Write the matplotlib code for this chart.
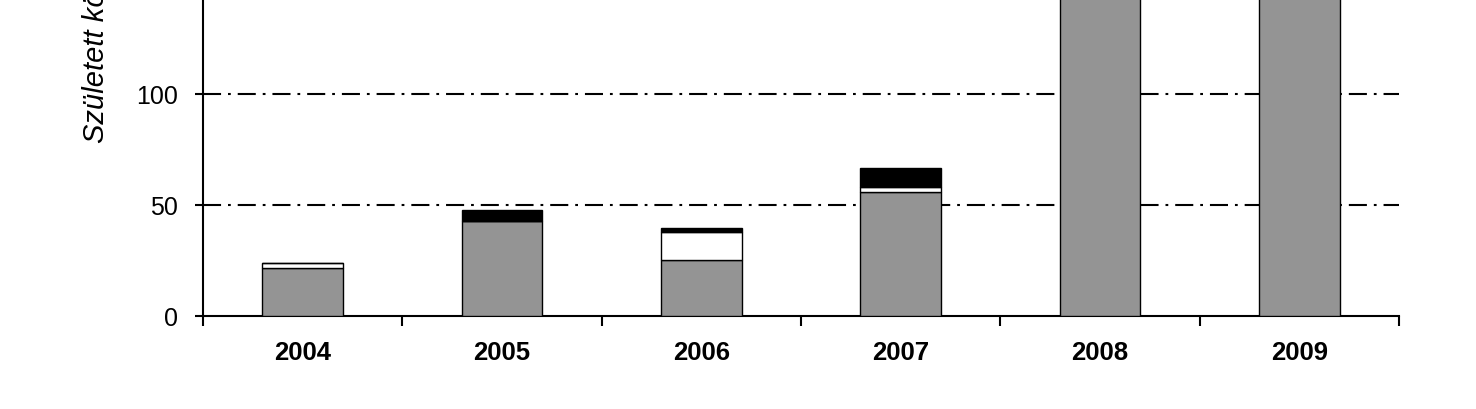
import matplotlib
matplotlib.use("Agg")
import matplotlib.pyplot as plt
from matplotlib import font_manager
import numpy as np

years = ["2004", "2005", "2006", "2007", "2008", "2009"]
gray_vals = [21.5, 43.0, 25.4, 55.7, 170.0, 165.0]
white_vals = [2.6, 0.0, 12.3, 2.5, 0.0, 0.0]
black_vals = [0.0, 4.8, 1.8, 8.6, 0.0, 0.0]
yticks = [0, 50, 100]
ylabel = "Született kölykök száma (db)"

plt.rcParams['font.family'] = ['Liberation Sans', 'DejaVu Sans']
plt.rcParams['lines.scale_dashes'] = False

names = {f.name for f in font_manager.fontManager.ttflist}
narrow = 'Liberation Sans Narrow' in names
if narrow:
    tick_font = dict(family=['Liberation Sans Narrow', 'Liberation Sans'])
    ysize, xsize = 20, 21
else:
    tick_font = dict(family=['Liberation Sans', 'DejaVu Sans'])
    ysize, xsize = 18, 18.5

fig = plt.figure(figsize=(14.76, 4.09), dpi=100)
ax = fig.add_axes([203/1476, 93/409, 1196/1476, 316/409])

x = np.arange(len(years)) + 0.5
w = 0.405
g = np.array(gray_vals)
wv = np.array(white_vals)
b = np.array(black_vals)
ax.bar(x, g, w, color="#949494", edgecolor="black", linewidth=1.0, zorder=3)
ax.bar(x, wv, w, bottom=g, color="white", edgecolor="black", linewidth=1.0, zorder=3)
ax.bar(x, b, w, bottom=g + wv, color="black", edgecolor="black", linewidth=1.0, zorder=3)

for yv in [50, 100]:
    ax.axhline(yv, color="black", linewidth=1.5, dashes=(13, 5, 2, 5), zorder=1)

for s in ["top", "right"]:
    ax.spines[s].set_visible(False)
for s in ["left", "bottom"]:
    ax.spines[s].set_linewidth(1.5)
    ax.spines[s].set_color("black")

ax.set_yticks(yticks)
ax.set_yticklabels([str(v) for v in yticks], fontsize=ysize, **tick_font)
ax.tick_params(axis="y", direction="out", length=6, width=1.5, pad=12, colors="black")

ax.set_xticks(np.arange(len(years) + 1))
ax.set_xticklabels([])
ax.tick_params(axis="x", which="major", direction="out", length=7, width=1.5)
ax.set_xticks(x, minor=True)
ax.set_xticklabels(years, minor=True, fontsize=xsize, fontweight="bold", **tick_font)
ax.tick_params(axis="x", which="minor", length=0, pad=18)

ax.set_xlim(0, len(years))
ax.set_ylim(0, 142.5)

fig.text(96/1476, (409-143)/409, ylabel, rotation=90, ha="center", va="bottom",
         fontsize=21, fontstyle="italic")

fig.savefig("out.png", dpi=100)
